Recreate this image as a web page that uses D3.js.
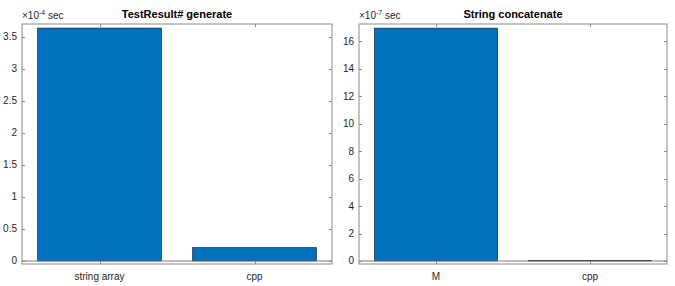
<!DOCTYPE html>
<html>
<head>
<meta charset="utf-8">
<script src="https://cdn.jsdelivr.net/npm/d3@7"></script>
<style>
  body { margin: 0; background: #fff; }
  text { font-family: Arial, "Liberation Sans", sans-serif; }
</style>
</head>
<body>
<div id="chart"></div>
<script>
// data
const leftCategories = ["string array", "cpp"];
const leftValues = [3.64, 0.21];          // x 1e-4 sec
const leftTicks = [0, 0.5, 1, 1.5, 2, 2.5, 3, 3.5];
const rightCategories = ["M", "cpp"];
const rightValues = [16.97, 0.05];        // x 1e-7 sec
const rightTicks = [0, 2, 4, 6, 8, 10, 12, 14, 16];

const width = 675, height = 286;
const axisColor = "#8a8a8a";
const textColor = "#262626";
const barColor = "#0072BD";

const svg = d3.select("#chart").append("svg")
    .attr("width", width)
    .attr("height", height);

function drawPanel(opt) {
    const g = svg.append("g");
    const x = d3.scaleLinear().domain([0.5, 2.5]).range([opt.x0, opt.x1]);
    const y = d3.scaleLinear().domain(opt.yDomain).range([opt.yBottom, opt.yTop]);

    // bars
    g.selectAll("rect.bar")
        .data(opt.values)
        .enter()
        .append("rect")
        .attr("class", "bar")
        .attr("x", (d, i) => x(i + 1 - 0.4))
        .attr("width", x(1.4) - x(0.6))
        .attr("y", d => y(d))
        .attr("height", d => y(0) - y(d))
        .attr("fill", barColor)
        .attr("stroke", "#1a1a1a")
        .attr("stroke-width", 0.6);

    // baseline at zero
    g.append("line")
        .attr("x1", opt.x0).attr("x2", opt.x1)
        .attr("y1", y(0)).attr("y2", y(0))
        .attr("stroke", "#7a7a7a").attr("stroke-width", 1);

    // box
    g.append("rect")
        .attr("x", opt.x0).attr("y", opt.yTop)
        .attr("width", opt.x1 - opt.x0).attr("height", opt.yBottom - opt.yTop)
        .attr("fill", "none").attr("stroke", axisColor).attr("stroke-width", 1);

    const tl = 3;
    // y ticks (inside, both sides)
    opt.ticks.forEach(t => {
        const yy = Math.round(y(t)) + 0.5;
        g.append("line").attr("x1", opt.x0).attr("x2", opt.x0 + tl)
            .attr("y1", yy).attr("y2", yy).attr("stroke", axisColor);
        g.append("line").attr("x1", opt.x1).attr("x2", opt.x1 - tl)
            .attr("y1", yy).attr("y2", yy).attr("stroke", axisColor);
        g.append("text")
            .attr("x", opt.x0 - 5).attr("y", y(t))
            .attr("dy", "0.35em")
            .attr("text-anchor", "end")
            .attr("font-size", 10)
            .attr("fill", textColor)
            .text(t);
    });

    // x ticks (inside, top and bottom)
    opt.categories.forEach((c, i) => {
        const xx = Math.round(x(i + 1)) + 0.5;
        g.append("line").attr("x1", xx).attr("x2", xx)
            .attr("y1", opt.yBottom).attr("y2", opt.yBottom - tl).attr("stroke", axisColor);
        g.append("line").attr("x1", xx).attr("x2", xx)
            .attr("y1", opt.yTop).attr("y2", opt.yTop + tl).attr("stroke", axisColor);
        g.append("text")
            .attr("x", x(i + 1)).attr("y", 280)
            .attr("text-anchor", "middle")
            .attr("font-size", 10)
            .attr("fill", textColor)
            .text(c);
    });

    // exponent label
    const ex = g.append("text")
        .attr("x", opt.x0).attr("y", 19)
        .attr("font-size", 10)
        .attr("fill", textColor);
    ex.append("tspan").text("\u00d710");
    ex.append("tspan").attr("dy", -4).attr("font-size", 7).text(opt.exponent);
    ex.append("tspan").attr("dy", 4).text(" sec");

    // title
    g.append("text")
        .attr("x", (opt.x0 + opt.x1) / 2).attr("y", 18)
        .attr("text-anchor", "middle")
        .attr("font-size", 11)
        .attr("font-weight", "bold")
        .attr("fill", "#000")
        .text(opt.title);
}

drawPanel({
    title: "TestResult# generate",
    exponent: "-4",
    categories: leftCategories,
    values: leftValues,
    ticks: leftTicks,
    x0: 22, x1: 332,
    yTop: 24, yBottom: 264,
    yDomain: [-0.047, 3.703]
});

drawPanel({
    title: "String concatenate",
    exponent: "-7",
    categories: rightCategories,
    values: rightValues,
    ticks: rightTicks,
    x0: 359, x1: 667,
    yTop: 24, yBottom: 264,
    yDomain: [-0.219, 17.27]
});
</script>
</body>
</html>
